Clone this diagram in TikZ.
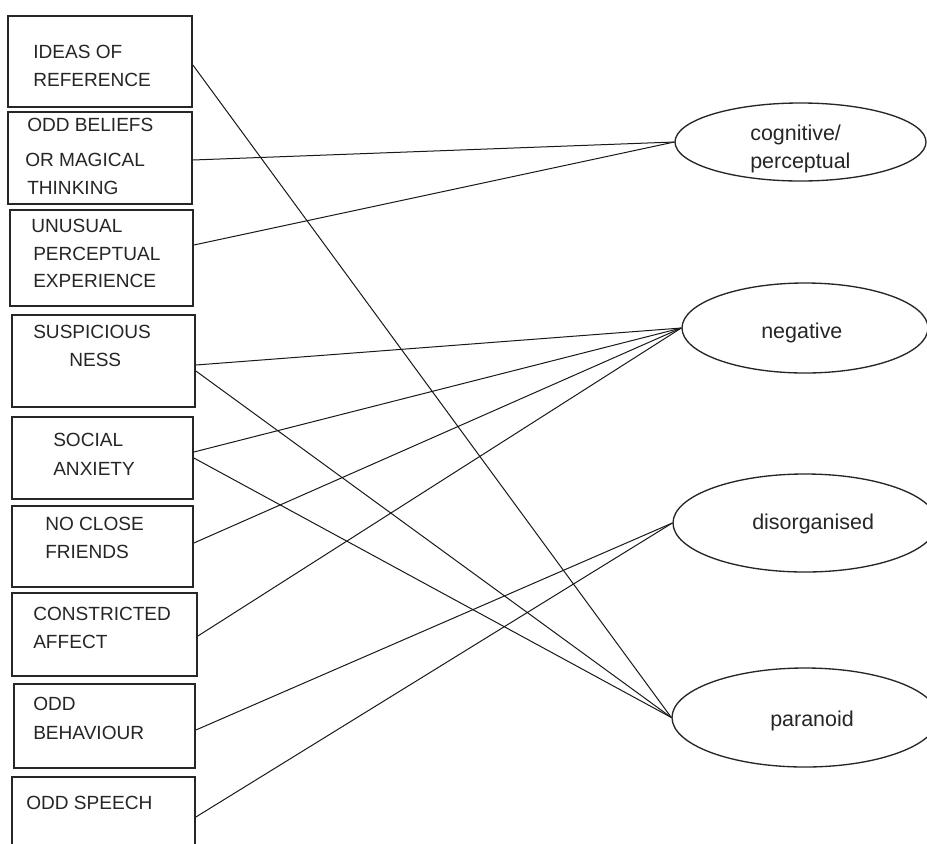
\documentclass[tikz,border=0pt]{standalone}
\usepackage{fontspec}
\setmainfont{Liberation Sans}
\usetikzlibrary{shapes.geometric}
\begin{document}
\begin{tikzpicture}[x=0.75pt,y=-0.75pt,
  box/.style={draw=black!85,line width=1.3pt,rectangle,inner sep=0pt},
  factor/.style={draw=black!85,line width=1pt,ellipse,inner sep=0pt},
  lbl/.style={anchor=base west,inner sep=0pt,font=\fontsize{14.3pt}{17pt}\selectfont,text=black!85},
  elbl/.style={anchor=base west,inner sep=0pt,font=\fontsize{16.1pt}{19pt}\selectfont,text=black!85},
  link/.style={draw=black!90,line width=0.75pt}]
\useasboundingbox (0,0) rectangle (927,843);
\clip (0,0) rectangle (927,843);
\fill[white] (0,0) rectangle (927,843);

% boxes
\node[box,minimum width=138pt,minimum height=68.25pt] (b1) at (100,61.5) {};
\node[box,minimum width=138pt,minimum height=69pt] (b2) at (100,158) {};
\node[box,minimum width=137.25pt,minimum height=72pt] (b3) at (101.5,258) {};
\node[box,minimum width=137.25pt,minimum height=69pt] (b4) at (103.5,361) {};
\node[box,minimum width=135.75pt,minimum height=61.5pt] (b5) at (102.5,458) {};
\node[box,minimum width=135.75pt,minimum height=60.75pt] (b6) at (102.5,546.5) {};
\node[box,minimum width=138.75pt,minimum height=62.25pt] (b7) at (104.5,634.5) {};
\node[box,minimum width=135.75pt,minimum height=63pt] (b8) at (104.5,726) {};
\node[box,minimum width=137.25pt,minimum height=62.25pt] (b9) at (103.5,818.5) {};

% box texts
\node[lbl] (t1a) at (33,58.3) {IDEAS OF};
\node[lbl] (t1b) at (33,86) {REFERENCE};
\node[lbl] (t2a) at (27,131.7) {ODD BELIEFS};
\node[lbl] (t2b) at (25,166.7) {OR MAGICAL};
\node[lbl] (t2c) at (27,194) {THINKING};
\node[lbl] (t3a) at (31,232.3) {UNUSUAL};
\node[lbl] (t3b) at (33,260.7) {PERCEPTUAL};
\node[lbl] (t3c) at (33,287.3) {EXPERIENCE};
\node[lbl] (t4a) at (33,338.3) {SUSPICIOUS};
\node[lbl] (t4b) at (69,366) {NESS};
\node[lbl] (t5a) at (53,446.7) {SOCIAL};
\node[lbl] (t5b) at (53,475) {ANXIETY};
\node[lbl] (t6a) at (45,530.7) {NO CLOSE};
\node[lbl] (t6b) at (45,558.3) {FRIENDS};
\node[lbl] (t7a) at (33,620.7) {CONSTRICTED};
\node[lbl] (t7b) at (33,648.3) {AFFECT};
\node[lbl] (t8a) at (33,710.7) {ODD};
\node[lbl] (t8b) at (33,739.3) {BEHAVIOUR};
\node[lbl] (t9a) at (26,809.3) {ODD SPEECH};

% factor ellipses
\node[factor,minimum width=188.25pt,minimum height=58.5pt] (cog) at (800.5,142) {};
\node[factor,minimum width=184.5pt,minimum height=67.5pt] (neg) at (805,328) {};
\node[factor,minimum width=198pt,minimum height=73.5pt] (dis) at (805,523) {};
\node[factor,minimum width=199.5pt,minimum height=74.25pt] (par) at (805,717.5) {};

\node[elbl] (ecog1) at (750,140) {cognitive/};
\node[elbl] (ecog2) at (750,168) {perceptual};
\node[elbl] (eneg) at (761,338) {negative};
\node[elbl] (edis) at (752,529) {disorganised};
\node[elbl] (epar) at (770,726.5) {paranoid};

% connectors
\draw[link] ([yshift=-2.625pt]b1.east) -- (par.west);
\draw[link] ([yshift=-1.5pt]b2.east) -- (cog.west);
\draw[link] ([yshift=9.75pt]b3.east) -- (cog.west);
\draw[link] ([yshift=-3pt]b4.east) -- (neg.west);
\draw[link] ([yshift=-7.5pt]b4.east) -- (par.west);
\draw[link] ([yshift=4.5pt]b5.east) -- (neg.west);
\draw[link] (b5.east) -- (par.west);
\draw[link] ([yshift=2.625pt]b6.east) -- (neg.west);
\draw[link] ([yshift=-1.125pt]b7.east) -- (neg.west);
\draw[link] ([yshift=-3pt]b8.east) -- (dis.west);
\draw[link] ([yshift=1.125pt]b9.east) -- (dis.west);
\end{tikzpicture}
\end{document}
